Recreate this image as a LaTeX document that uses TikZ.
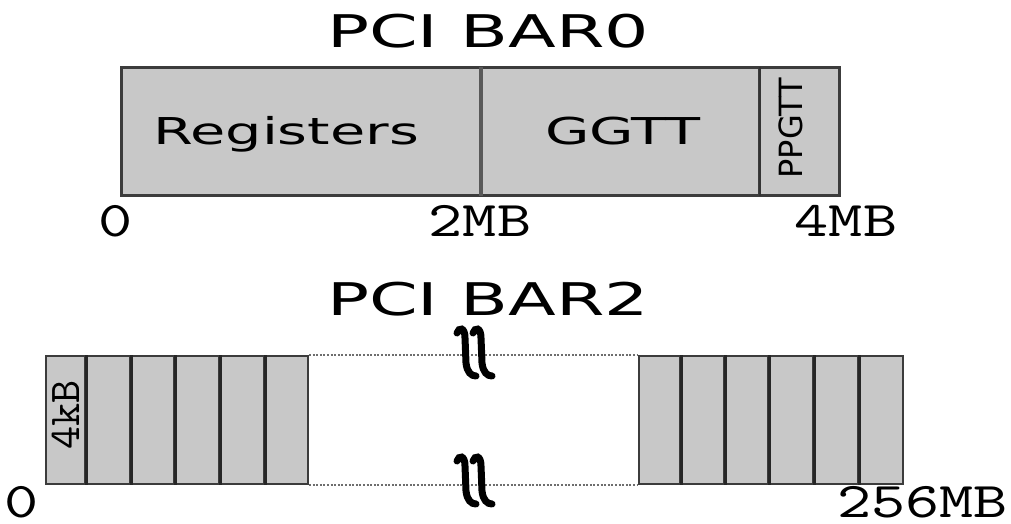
\documentclass[tikz,border=0pt]{standalone}
\usepackage{fontspec}
\newfontfamily\titlefont[FakeStretch=1.55]{DejaVu Sans}
\newfontfamily\plainsans{DejaVu Sans}
\newfontfamily\numfont[FakeStretch=1.3]{lmmono10-regular.otf}
\newfontfamily\numplain{lmmono10-regular.otf}
\definecolor{cellfill}{RGB}{200,200,200}
\definecolor{edgegray}{RGB}{60,60,60}
\definecolor{dotgray}{RGB}{110,110,110}
\tikzset{
  region/.style={draw=edgegray, line width=2pt, fill=cellfill, inner sep=0pt,
    minimum height=#1},
  region/.default=127pt,
  heading/.style={font=\titlefont\fontsize{45}{48}\selectfont, anchor=base, inner sep=0pt},
  boxtext/.style={font=\titlefont\fontsize{37}{40}\selectfont, anchor=base, inner sep=0pt},
  sidetext/.style={font=\plainsans\fontsize{32}{34}\selectfont, rotate=90, inner sep=0pt},
  sizetext/.style={font=\numplain\fontsize{44}{46}\selectfont, rotate=90, inner sep=0pt},
  addr/.style={font=\numfont\fontsize{50}{52}\selectfont, anchor=base, inner sep=0pt,
    text depth=0pt},
  gapline/.style={dotgray, line width=1.3pt, dash pattern=on 2pt off 1.6pt},
  breakmark/.style={black, line width=7pt, line cap=round},
}
\begin{document}
\begin{tikzpicture}[x=1pt, y=-1pt]
\useasboundingbox (0,0) rectangle (1011,524);

% ---- BAR0 ----
\node[heading] (bar0) at (488,48) {PCI BAR0};
\node[region, minimum width=358pt, anchor=north west] (regs) at (121,67) {};
\node[region, minimum width=279pt, anchor=north west] (ggtt) at (479,67) {};
\node[region, minimum width=80pt,  anchor=north west] (ppgtt) at (758,67) {};
\draw[edgegray, line width=2pt] (regs.north west) rectangle (ppgtt.south east);
\draw[black!65, line width=4pt] (regs.north east) -- (regs.south east);
\draw[black!80, line width=2.5pt] (ggtt.north east) -- (ggtt.south east);
\node[boxtext] (regstext) at (286,144) {Registers};
\node[boxtext] (ggtttext) at (623,144) {GGTT};
\node[sidetext] (ppgtttext) at (791,128) {PPGTT};
\node[addr] (z0) at (116,236) {0};
\node[addr] (m2) at (480,236) {2MB};
\node[addr] (m4) at (846,236) {4MB};

% ---- BAR2 ----
\node[heading] (bar2) at (488,315) {PCI BAR2};
\foreach \n/\x/\w in {1/45/39, 2/84/45, 3/129/44, 4/173/45, 5/218/45, 6/263/44}{
  \node[region=128pt, minimum width=\w pt, anchor=north west] (c\n) at (\x,355) {};
}
\foreach \n/\x/\w in {1/638/41, 2/679/44, 3/723/44, 4/767/45, 5/812/45, 6/857/45}{
  \node[region=128pt, minimum width=\w pt, anchor=north west] (d\n) at (\x,355) {};
}
\foreach \n in {1,...,5}{
  \draw[black!85, line width=3pt] (c\n.north east) -- (c\n.south east);
  \draw[black!85, line width=3pt] (d\n.north east) -- (d\n.south east);
}
\node[sizetext] (pagesize) at (66,415) {4kB};

% elided middle part
\draw[gapline] (c6.north east) -- (d1.north west);
\draw[gapline] (c6.south east) -- (d1.south west);
\coordinate (brkA) at (472,354);
\coordinate (brkB) at (472,482);
\foreach \c in {brkA, brkB}{
  \foreach \dx in {0,16}{
    \draw[breakmark, shift={(\c)}, xshift=\dx pt]
      (-15,-21) .. controls (-13,-27) and (-7,-27) .. (-7,-16)
      -- (-6,9) .. controls (-5,18) and (-1,22) .. (4,22);
  }
}
\node[addr] (z1) at (22,517) {0};
\node[addr, anchor=base east] (m256) at (1008,517) {256MB};
\end{tikzpicture}
\end{document}
